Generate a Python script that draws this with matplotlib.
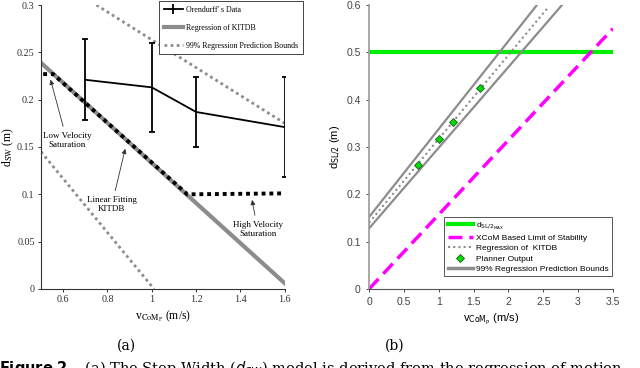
import numpy as np
import matplotlib.pyplot as plt
from matplotlib.lines import Line2D

# ---------------- data (a): step width ----------------
oren_v = [0.7, 1.0, 1.2, 1.6]
oren_d = [0.221, 0.213, 0.187, 0.171]
oren_lo = [0.178, 0.166, 0.150, 0.118]
oren_hi = [0.264, 0.260, 0.224, 0.224]

reg_v = [0.5, 1.6]
reg_d = [0.239, 0.006]
upper_v = [0.75, 1.6]
upper_d = [0.300, 0.175]
lower_v = [0.5, 1.01]
lower_d = [0.145, 0.0]

fit_v = [0.51, 0.555, 1.16, 1.6]
fit_d = [0.227, 0.227, 0.100, 0.101]

# ---------------- data (b): half step length ----------------
dmax = 0.5
xcom_v = [0, 3.5]
xcom_d = [0.0, 0.55]
kit_v = [0, 2.57]
kit_d = [0.140, 0.595]
ub_v = [0, 2.41]
ub_d = [0.152, 0.600]
lb_v = [0, 2.77]
lb_d = [0.128, 0.600]
plan_v = [0.7, 1.0, 1.2, 1.6]
plan_d = [0.262, 0.317, 0.353, 0.425]

fig = plt.figure(figsize=(6.4, 3.68), dpi=100)

# ---------------- panel (a) ----------------
serif = 'Liberation Serif'
ax1 = fig.add_axes([0.064, 0.2147, 0.381, 0.7717])
ax1.plot(upper_v, upper_d, ls=(0, (1, 1.2)), color='#8c8c8c', lw=2)
ax1.plot(lower_v, lower_d, ls=(0, (1, 1.2)), color='#8c8c8c', lw=2)
ax1.plot(reg_v, reg_d, color='#8c8c8c', lw=3)
ax1.plot(fit_v, fit_d, ls=(0, (1, 1)), color='black', lw=2.8)
err = [np.array(oren_d) - np.array(oren_lo), np.array(oren_hi) - np.array(oren_d)]
ax1.errorbar(oren_v, oren_d, yerr=err, color='black', lw=1.3, capsize=2.5, capthick=1.3)

ax1.set_xlim(0.5, 1.6)
ax1.set_ylim(0, 0.3)
ax1.set_xticks([0.6, 0.8, 1.0, 1.2, 1.4, 1.6])
ax1.set_xticklabels(['0.6', '0.8', '1', '1.2', '1.4', '1.6'])
ax1.set_yticks([0, 0.05, 0.1, 0.15, 0.2, 0.25, 0.3])
ax1.set_yticklabels(['0', '0.05', '0.1', '0.15', '0.2', '0.25', '0.3'])
for s in ['top', 'right']:
    ax1.spines[s].set_visible(False)
for s in ['left', 'bottom']:
    ax1.spines[s].set_color('#333333')
    ax1.spines[s].set_linewidth(0.8)
ax1.tick_params(labelsize=7.3, colors='#333333', length=2.5, width=0.7, pad=2)
for t in ax1.get_xticklabels() + ax1.get_yticklabels():
    t.set_family(serif)
ax1.set_ylabel(r'd$_{\mathrm{SW}}$ (m)', fontsize=8.5, family=serif, labelpad=1,
               math_fontfamily='stix')
ax1.set_xlabel(r'v$_{\mathrm{CoM}_\mathrm{P}}$ (m/s)', fontsize=8.5, family=serif, labelpad=3,
               math_fontfamily='stix')

h1 = [Line2D([], [], color='black', lw=1.3, marker='|', markersize=7, mew=1.3),
      Line2D([], [], color='#8c8c8c', lw=3),
      Line2D([], [], color='#8c8c8c', lw=2, ls=(0, (1, 1.2)))]
l1 = ax1.legend(h1, ["Orendurff' s Data", 'Regression of KITDB', '99% Regression Prediction Bounds'],
                loc='upper right', bbox_to_anchor=(1.074, 1.014), fancybox=False, framealpha=1,
                edgecolor='#444444', prop={'family': serif, 'size': 5.7},
                handlelength=2.4, borderpad=0.6, labelspacing=1.25, handletextpad=0.4,
                borderaxespad=0)
l1.get_frame().set_linewidth(0.7)

ann = dict(arrowstyle='-|>', color='#333333', lw=0.6, mutation_scale=7)
ax1.annotate('Low Velocity\nSaturation', xy=(0.54, 0.224), xytext=(0.617, 0.157),
             ha='center', va='center', fontsize=6.5, family=serif, arrowprops=ann)
ax1.annotate('Linear Fitting\nKITDB', xy=(0.883, 0.151), xytext=(0.82, 0.089),
             ha='center', va='center', fontsize=6.5, family=serif, arrowprops=ann)
ax1.annotate('High Velocity\nSaturation', xy=(1.45, 0.097), xytext=(1.477, 0.063),
             ha='center', va='center', fontsize=6.5, family=serif, arrowprops=ann)

# ---------------- panel (b) ----------------
sans = 'Liberation Sans'
ax2 = fig.add_axes([0.5766, 0.2147, 0.381, 0.7717])
ax2.axhline(dmax, color='#00ee00', lw=3)
ax2.plot(xcom_v, xcom_d, color='#ff00ff', lw=2.5, ls=(0, (4, 2)))
ax2.plot(ub_v, ub_d, color='#8c8c8c', lw=1.6)
ax2.plot(lb_v, lb_d, color='#8c8c8c', lw=1.6)
ax2.plot(kit_v, kit_d, color='#8c8c8c', lw=1.5, ls=(0, (1, 1.5)))
ax2.plot(plan_v, plan_d, ls='none', marker='D', markersize=4.5, mfc='#00dd00',
         mec='#225522', mew=0.6)

ax2.set_xlim(0, 3.5)
ax2.set_ylim(0, 0.6)
ax2.set_xticks([0, 0.5, 1, 1.5, 2, 2.5, 3, 3.5])
ax2.set_xticklabels(['0', '0.5', '1', '1.5', '2', '2.5', '3', '3.5'])
ax2.set_yticks([0, 0.1, 0.2, 0.3, 0.4, 0.5, 0.6])
ax2.set_yticklabels(['0', '0.1', '0.2', '0.3', '0.4', '0.5', '0.6'])
for s in ['top', 'right']:
    ax2.spines[s].set_visible(False)
ax2.spines['left'].set_color('#999999')
ax2.spines['left'].set_linewidth(1.2)
ax2.spines['bottom'].set_color('#555555')
ax2.spines['bottom'].set_linewidth(0.8)
ax2.tick_params(labelsize=7.5, colors='#444444', length=2.5, width=0.7)
for t in ax2.get_xticklabels() + ax2.get_yticklabels():
    t.set_family(sans)
ax2.set_ylabel(r'd$_{\mathrm{SL/2}}$ (m)', fontsize=8, family=sans, labelpad=2)
ax2.set_xlabel(r'v$_{\mathrm{CoM}_\mathrm{P}}$ (m/s)', fontsize=8, family=sans, labelpad=3)

h2 = [Line2D([], [], color='#00ee00', lw=3),
      Line2D([], [], color='#ff00ff', lw=2.5, ls=(0, (4, 2))),
      Line2D([], [], color='#8c8c8c', lw=1.5, ls=(0, (1, 1.5))),
      Line2D([], [], ls='none', marker='D', markersize=4, mfc='#00dd00', mec='#225522', mew=0.6),
      Line2D([], [], color='#8c8c8c', lw=2.5)]
l2 = ax2.legend(h2, [r'd$_{\mathrm{SL/2}_{\mathrm{MAX}}}$', 'XCoM Based Limit of Stability',
                     'Regression of  KITDB', 'Planner Output', '99% Regression Prediction Bounds'],
                loc='lower right', bbox_to_anchor=(0.996, 0.045), fancybox=False, framealpha=1,
                edgecolor='#555555', prop={'family': sans, 'size': 6.0},
                handlelength=3.0, borderpad=0.4, labelspacing=0.3, handletextpad=0.4,
                borderaxespad=0)
l2.get_frame().set_linewidth(0.7)

# ---------------- sub-captions ----------------
fig.text(0.198, 0.062, '(a)', ha='center', va='center', fontsize=10, family='DejaVu Serif')
fig.text(0.616, 0.062, '(b)', ha='center', va='center', fontsize=10, family='DejaVu Serif')
fig.text(-0.002, 0.0, r'$\mathbf{Figure\ 2.}$  (a) The Step Width ($d_{SW}$) model is derived from the regression of motion',
         ha='left', va='center', fontsize=10.5, family='DejaVu Serif')

fig.savefig('out.png', dpi=100)
